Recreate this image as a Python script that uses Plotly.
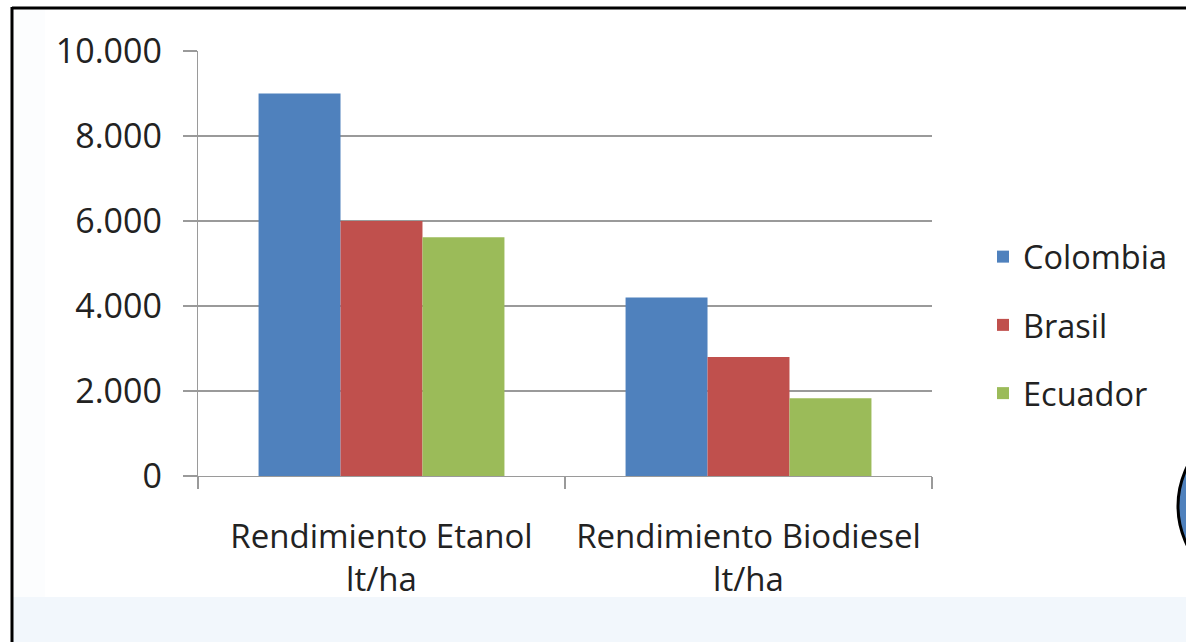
import plotly.graph_objects as go

categories = ["Rendimiento Etanol<br>lt/ha", "Rendimiento Biodiesel<br>lt/ha"]
series_names = ["Colombia", "Brasil", "Ecuador"]
colombia = [9000, 4200]
brasil = [6000, 2800]
ecuador = [5620, 1830]
y_ticks = [0, 2000, 4000, 6000, 8000, 10000]

colors = ["#4F81BD", "#C0504D", "#9BBB59"]
values = [colombia, brasil, ecuador]

W, H = 1186, 642
# plot area in window pixels
L, R, T, B = 198, 932, 51, 476

def px(x):
    return (x - L) / (R - L)

def py(y):
    return (B - y) / (B - T)

FONT = "Open Sans"
FS = 33

fig = go.Figure()
for name, vals, c in zip(series_names, values, colors):
    fig.add_trace(go.Bar(
        name=name, x=categories, y=vals, marker=dict(color=c, line=dict(width=0)),
        legendgroup=name,
    ))

fig.update_layout(
    width=W, height=H,
    margin=dict(l=L, r=W - R, t=T, b=H - B, pad=0, autoexpand=False),
    paper_bgcolor="white", plot_bgcolor="white",
    barmode="group", bargap=0.33, bargroupgap=0,
    separators=",.",
    font=dict(family=FONT, size=FS, color="#222222"),
    showlegend=True,
    legend=dict(
        x=px(983), y=py(229), xanchor="left", yanchor="top",
        font=dict(family=FONT, size=32.5, color="#222222"),
        tracegroupgap=23, itemwidth=30, bgcolor="rgba(0,0,0,0)",
    ),
    yaxis=dict(
        range=[0, 10000], tickvals=y_ticks, tickformat=",d",
        showgrid=True, gridcolor="#9a9a9a", gridwidth=1.3,
        showline=True, linecolor="#9a9a9a", linewidth=1.3,
        ticks="outside", ticklen=14, tickcolor="#9a9a9a", tickwidth=1.3,
        ticklabelstandoff=14, zeroline=False, automargin=False,
        tickfont=dict(family=FONT, size=34, color="#222222"),
        fixedrange=True,
    ),
    xaxis=dict(
        showline=True, linecolor="#9a9a9a", linewidth=1.3,
        ticks="outside", ticklen=12, tickcolor="#9a9a9a", tickwidth=1.3,
        tickson="boundaries", ticklabelstandoff=31, automargin=False,
        tickfont=dict(family=FONT, size=FS, color="#222222"),
        fixedrange=True,
    ),
    shapes=[
        # faint blue background strips
        dict(type="rect", xref="paper", yref="paper", x0=px(12), x1=px(1200), y0=py(597), y1=py(660),
             fillcolor="#f2f7fc", line=dict(width=0), layer="below"),
        dict(type="rect", xref="paper", yref="paper", x0=px(13), x1=px(45), y0=py(10), y1=py(597),
             fillcolor="#fcfdfe", line=dict(width=0), layer="below"),
        # border
        dict(type="line", xref="paper", yref="paper", x0=px(12), x1=px(12), y0=py(7), y1=py(660),
             line=dict(color="black", width=3)),
        dict(type="line", xref="paper", yref="paper", x0=px(12), x1=px(1200), y0=py(8), y1=py(8),
             line=dict(color="black", width=3)),
        # blue circle partially visible at right edge
        dict(type="circle", xref="paper", yref="paper", x0=px(1178), x1=px(1380), y0=py(412), y1=py(600),
             fillcolor="#4F81BD", line=dict(color="black", width=3)),
    ],
)

fig.write_html(
    "out.html",
    config={"displayModeBar": False, "staticPlot": True},
    post_script=(
        "document.body.style.margin='0';"
        "document.body.style.overflow='hidden';"
        "document.documentElement.style.overflow='hidden';"
    ),
)
